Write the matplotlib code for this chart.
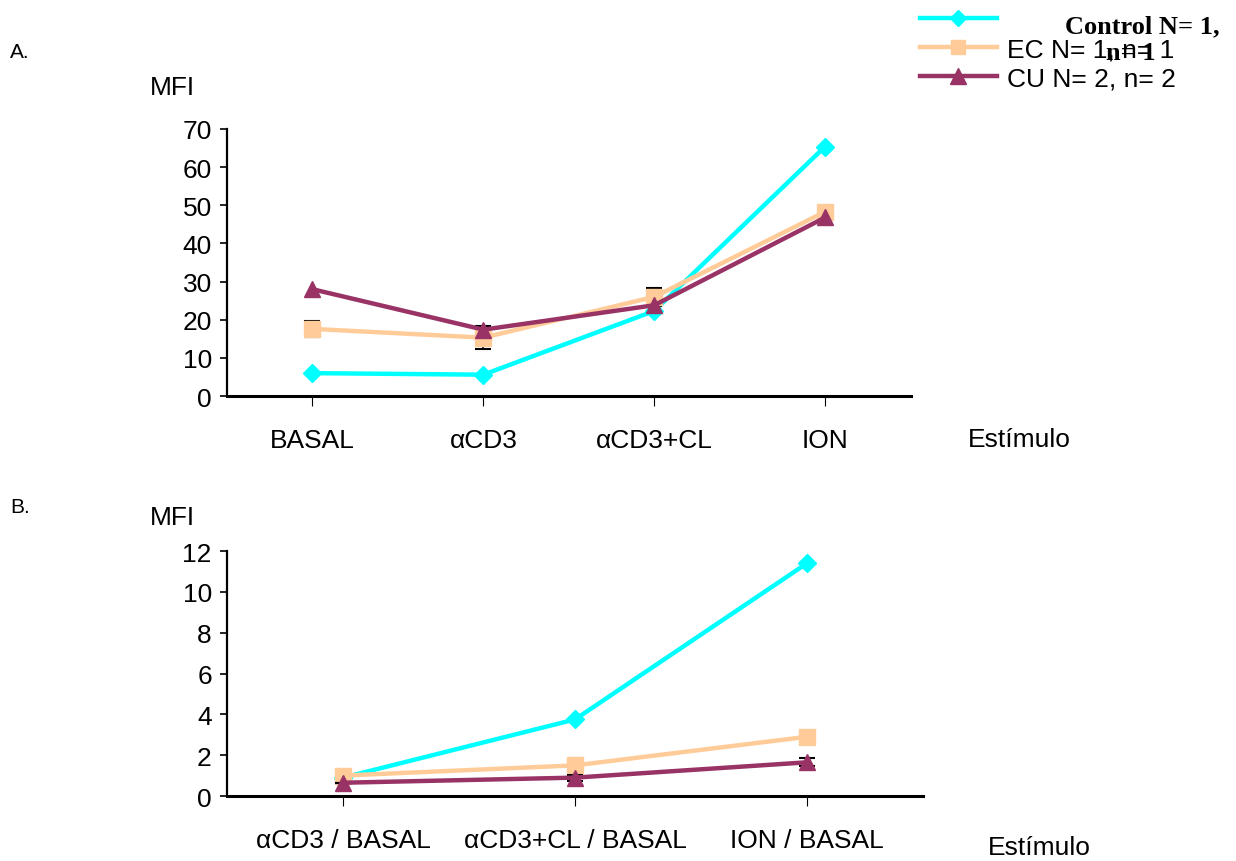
import matplotlib
matplotlib.use("Agg")
import matplotlib.pyplot as plt
from matplotlib.lines import Line2D

plt.rcParams['font.family'] = ['Liberation Sans', 'DejaVu Sans']

# Panel A: MFI por estímulo
estimulos_a = ["BASAL", "αCD3", "αCD3+CL", "ION"]
control_a = [6.0, 5.6, 22.3, 65.4]
ec_a = [17.6, 15.3, 26.0, 48.3]
ec_a_err = [2.2, 3.0, 2.4, 1.6]
cu_a = [28.0, 17.4, 23.8, 46.8]

# Panel B: cocientes respecto a BASAL
estimulos_b = ["αCD3 / BASAL", "αCD3+CL / BASAL", "ION / BASAL"]
control_b = [0.9, 3.75, 11.4]
ec_b = [1.0, 1.5, 2.9]
cu_b = [0.65, 0.9, 1.65]
cu_b_err = [0.0, 0.15, 0.2]

c_control = "#00FFFF"
c_ec = "#FFCC99"
c_cu = "#993366"

fig = plt.figure(figsize=(12.36, 8.62), dpi=100)
ax1 = fig.add_axes([0.1837, 0.5394, 0.553, 0.3098])
ax2 = fig.add_axes([0.1837, 0.0754, 0.563, 0.2842])

fs = 19


def estilo(ax, labels, ymax, ystep):
    for s in ["top", "right"]:
        ax.spines[s].set_visible(False)
    ax.spines["left"].set_linewidth(1.6)
    ax.spines["bottom"].set_linewidth(2.2)
    ax.set_xlim(-0.5, len(labels) - 0.5)
    ax.set_ylim(0, ymax)
    ax.set_yticks(range(0, ymax + 1, ystep))
    ax.set_xticks(range(len(labels)))
    ax.set_xticklabels(labels)
    ax.tick_params(axis="x", direction="out", length=7, width=0.8, pad=16, labelsize=fs)
    ax.tick_params(axis="y", direction="out", length=5, width=1.2, pad=6, labelsize=fs)


xa = range(len(estimulos_a))
ax1.plot(xa, control_a, color=c_control, lw=3.2, marker="D", ms=9, zorder=3)
ax1.errorbar(xa, ec_a, yerr=ec_a_err, color=c_ec, lw=3.2, marker="s", ms=11,
             ecolor="black", elinewidth=1.2, capsize=6, capthick=1.5, zorder=4)
ax1.plot(xa, cu_a, color=c_cu, lw=3.2, marker="^", ms=12, zorder=5)
estilo(ax1, estimulos_a, 70, 10)

xb = range(len(estimulos_b))
ax2.plot(xb, control_b, color=c_control, lw=3.2, marker="D", ms=9, zorder=3)
ax2.plot(xb, ec_b, color=c_ec, lw=3.2, marker="s", ms=11, zorder=4)
ax2.errorbar(xb, cu_b, yerr=cu_b_err, color=c_cu, lw=3.2, marker="^", ms=12,
             ecolor="black", elinewidth=1.2, capsize=6, capthick=1.5, zorder=5)
estilo(ax2, estimulos_b, 12, 2)

fig.text(10 / 1236, 1 - 52 / 862, "A.", fontsize=15, va="center")
fig.text(10 / 1236, 1 - 508 / 862, "B.", fontsize=15, va="center")
fig.text(150 / 1236, 1 - 88 / 862, "MFI", fontsize=fs, va="center")
fig.text(150 / 1236, 1 - 518 / 862, "MFI", fontsize=fs, va="center")
fig.text(968 / 1236, 1 - 440 / 862, "Estímulo", fontsize=fs, va="center")
fig.text(988 / 1236, 1 - 848 / 862, "Estímulo", fontsize=fs, va="center")

handles = [
    Line2D([], [], color=c_control, lw=3.2, marker="D", ms=8),
    Line2D([], [], color=c_ec, lw=3.2, marker="s", ms=10),
    Line2D([], [], color=c_cu, lw=3.2, marker="^", ms=11),
]
fig.legend(handles, ["", "EC N= 1, n= 1", "CU N= 2, n= 2"],
           loc="upper left", bbox_to_anchor=(920 / 1236, 1 - 9 / 862),
           frameon=False, fontsize=fs, handlelength=2.9, handletextpad=0.38,
           labelspacing=0.2, borderpad=0.0, borderaxespad=0.0)
fig.text(1065 / 1236, 1 - 27 / 862, "Control N= 1,", fontsize=19,
         family="Liberation Serif", weight="bold", va="center")
fig.text(1106 / 1236, 1 - 54 / 862, "n= 1", fontsize=19,
         family="Liberation Serif", weight="bold", va="center")

fig.savefig("out.png", dpi=100)
